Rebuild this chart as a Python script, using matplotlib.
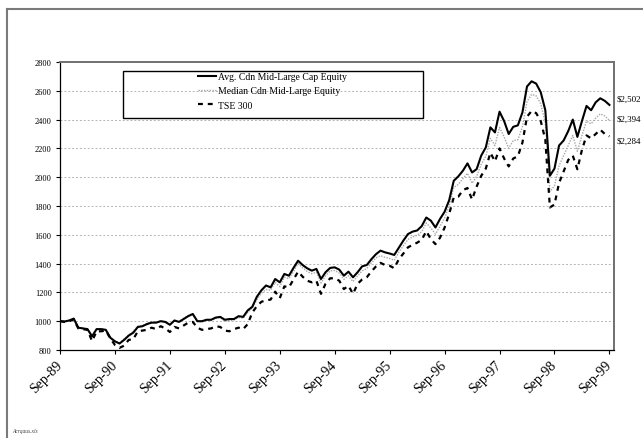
import matplotlib
matplotlib.use('Agg')
import matplotlib.pyplot as plt
import matplotlib.transforms as mtransforms
from matplotlib.lines import Line2D
from matplotlib.patches import Rectangle

plt.rcParams['font.family'] = ['Liberation Serif', 'DejaVu Serif']

# monthly index, Sep-89 .. Sep-99 (growth of $1000)
months = list(range(121))
tick_labels = ['Sep-89', 'Sep-90', 'Sep-91', 'Sep-92', 'Sep-93', 'Sep-94',
               'Sep-95', 'Sep-96', 'Sep-97', 'Sep-98', 'Sep-99']

avg = [1000, 998, 1005, 1018, 955, 950, 945, 895, 945, 945,
       940, 885, 860, 845, 870, 900, 920, 960, 965, 980,
       990, 990, 1000, 995, 975, 1005, 995, 1015, 1035, 1050,
       1000, 1000, 1010, 1010, 1025, 1030, 1010, 1015, 1015, 1035,
       1030, 1075, 1100, 1170, 1215, 1248, 1235, 1293, 1270, 1328,
       1316, 1370, 1420, 1390, 1367, 1351, 1363, 1293, 1340, 1370,
       1374, 1358, 1316, 1344, 1305, 1340, 1381, 1390, 1430, 1465,
       1490, 1478, 1470, 1460, 1510, 1560, 1605, 1622, 1630, 1660,
       1720, 1698, 1651, 1710, 1760, 1840, 1975, 2006, 2045, 2096,
       2033, 2056, 2150, 2207, 2346, 2311, 2455, 2390, 2300, 2350,
       2360, 2450, 2630, 2666, 2650, 2590, 2465, 2010, 2060, 2220,
       2255, 2320, 2400, 2280, 2390, 2495, 2465, 2520, 2548, 2530, 2502]

median = [1000, 998, 1003, 1015, 955, 950, 945, 900, 948, 945,
          942, 888, 862, 850, 875, 905, 930, 965, 970, 985,
          995, 992, 1002, 995, 978, 1008, 998, 1020, 1040, 1052,
          1000, 995, 1005, 1005, 1020, 1025, 1000, 1005, 1008, 1025,
          1020, 1060, 1090, 1150, 1195, 1220, 1215, 1270, 1240, 1305,
          1295, 1345, 1400, 1370, 1345, 1330, 1340, 1265, 1315, 1350,
          1352, 1335, 1290, 1315, 1275, 1315, 1350, 1365, 1405, 1440,
          1455, 1443, 1436, 1423, 1478, 1524, 1568, 1585, 1596, 1622,
          1682, 1647, 1605, 1658, 1716, 1802, 1929, 1950, 1990, 2027,
          1958, 2005, 2090, 2145, 2270, 2220, 2345, 2280, 2200, 2255,
          2260, 2350, 2525, 2575, 2565, 2510, 2375, 1900, 1940, 2080,
          2150, 2220, 2290, 2180, 2290, 2390, 2370, 2410, 2440, 2425, 2394]

tse = [1000, 995, 1000, 1012, 950, 945, 940, 862, 930, 930,
       935, 880, 835, 815, 830, 870, 875, 930, 935, 940,
       955, 945, 965, 950, 925, 960, 950, 970, 990, 995,
       955, 940, 945, 950, 965, 960, 935, 930, 945, 955,
       945, 980, 1060, 1105, 1135, 1145, 1150, 1205, 1160, 1242,
       1235, 1290, 1344, 1309, 1281, 1270, 1281, 1190, 1260, 1298,
       1298, 1281, 1223, 1246, 1190, 1260, 1290, 1305, 1345, 1380,
       1405, 1390, 1385, 1368, 1430, 1470, 1513, 1530, 1545, 1565,
       1625, 1570, 1535, 1580, 1650, 1745, 1860, 1865, 1910, 1925,
       1845, 1935, 2010, 2060, 2170, 2110, 2200, 2130, 2075, 2130,
       2145, 2240, 2420, 2460, 2445, 2390, 2260, 1790, 1810, 1960,
       2040, 2120, 2150, 2055, 2190, 2290, 2270, 2300, 2330, 2300, 2284]

W, H = 643, 439
fig = plt.figure(figsize=(W / 100, H / 100), dpi=100)
ax = fig.add_axes([60 / W, 1 - 351 / H, 554 / W, 288 / H])

ax.plot(months, median, color='#a8a8a8', lw=1.0, ls=(0, (1, 1)),
        label='Median Cdn Mid-Large Equity', zorder=2)
ax.plot(months, avg, color='black', lw=1.5,
        label='Avg. Cdn Mid-Large Cap Equity', zorder=3)
ax.plot(months, tse, color='black', lw=1.6, ls=(0, (2.2, 2.2)),
        label='TSE 300', zorder=3)

ax.set_xlim(0, 121)
ax.set_ylim(800, 2800)
ax.set_yticks(range(800, 2801, 200))
ax.set_xticks(range(0, 121, 12))
ax.set_xticklabels(tick_labels, rotation=45, ha='right', va='center',
                   rotation_mode='anchor', fontsize=10)
ax.tick_params(axis='x', direction='out', length=3, width=0.8, pad=6)
ax.tick_params(axis='y', direction='out', length=3, width=0.8, pad=3,
               labelsize=6)
ax.yaxis.grid(True, color='#b4b4b4', lw=0.7, ls=(0, (2, 2)))
ax.set_axisbelow(True)

for s in ('left', 'bottom'):
    ax.spines[s].set_color('black')
    ax.spines[s].set_linewidth(0.9)
for s in ('top', 'right'):
    ax.spines[s].set_color('#707070')
    ax.spines[s].set_linewidth(1.4)

# legend box (wider than its contents, as in the original)
fig.add_artist(Rectangle((123 / W, 1 - 119 / H), 300 / W, 47 / H,
                         transform=fig.transFigure, fill=False,
                         ec='black', lw=1.0))
h, l = ax.get_legend_handles_labels()
order = [1, 0, 2]
ax.legend([h[i] for i in order], [l[i] for i in order],
          loc='upper left', bbox_to_anchor=(198 / W, 1 - 73 / H),
          bbox_transform=fig.transFigure, frameon=False, fontsize=7,
          handlelength=1.9, handletextpad=0.2, labelspacing=0.55,
          borderpad=0, borderaxespad=0)

# end values at the right edge
trans = mtransforms.blended_transform_factory(ax.transAxes, ax.transData)
ends = [(avg[-1] + 40, '$2,502'), (median[-1] + 10, '$2,394'),
        (tse[-1] - 30, '$2,284')]
for yv, txt in ends:
    ax.text(1.004, yv, txt, transform=trans, fontsize=6.5,
            ha='left', va='center')

# page frame and file note
fig.add_artist(Line2D([7 / W, 1], [1 - 9.5 / H, 1 - 9.5 / H],
                      transform=fig.transFigure, color='#7a7a7a', lw=1.5))
fig.add_artist(Line2D([7 / W, 7 / W], [0, 1 - 9.5 / H],
                      transform=fig.transFigure, color='#7a7a7a', lw=1.5))
fig.text(12 / W, 1 - 432 / H, 'Acrqaus.xls', fontsize=4, style='italic',
         color='#404040', va='center')

fig.savefig('out.png', dpi=100)
